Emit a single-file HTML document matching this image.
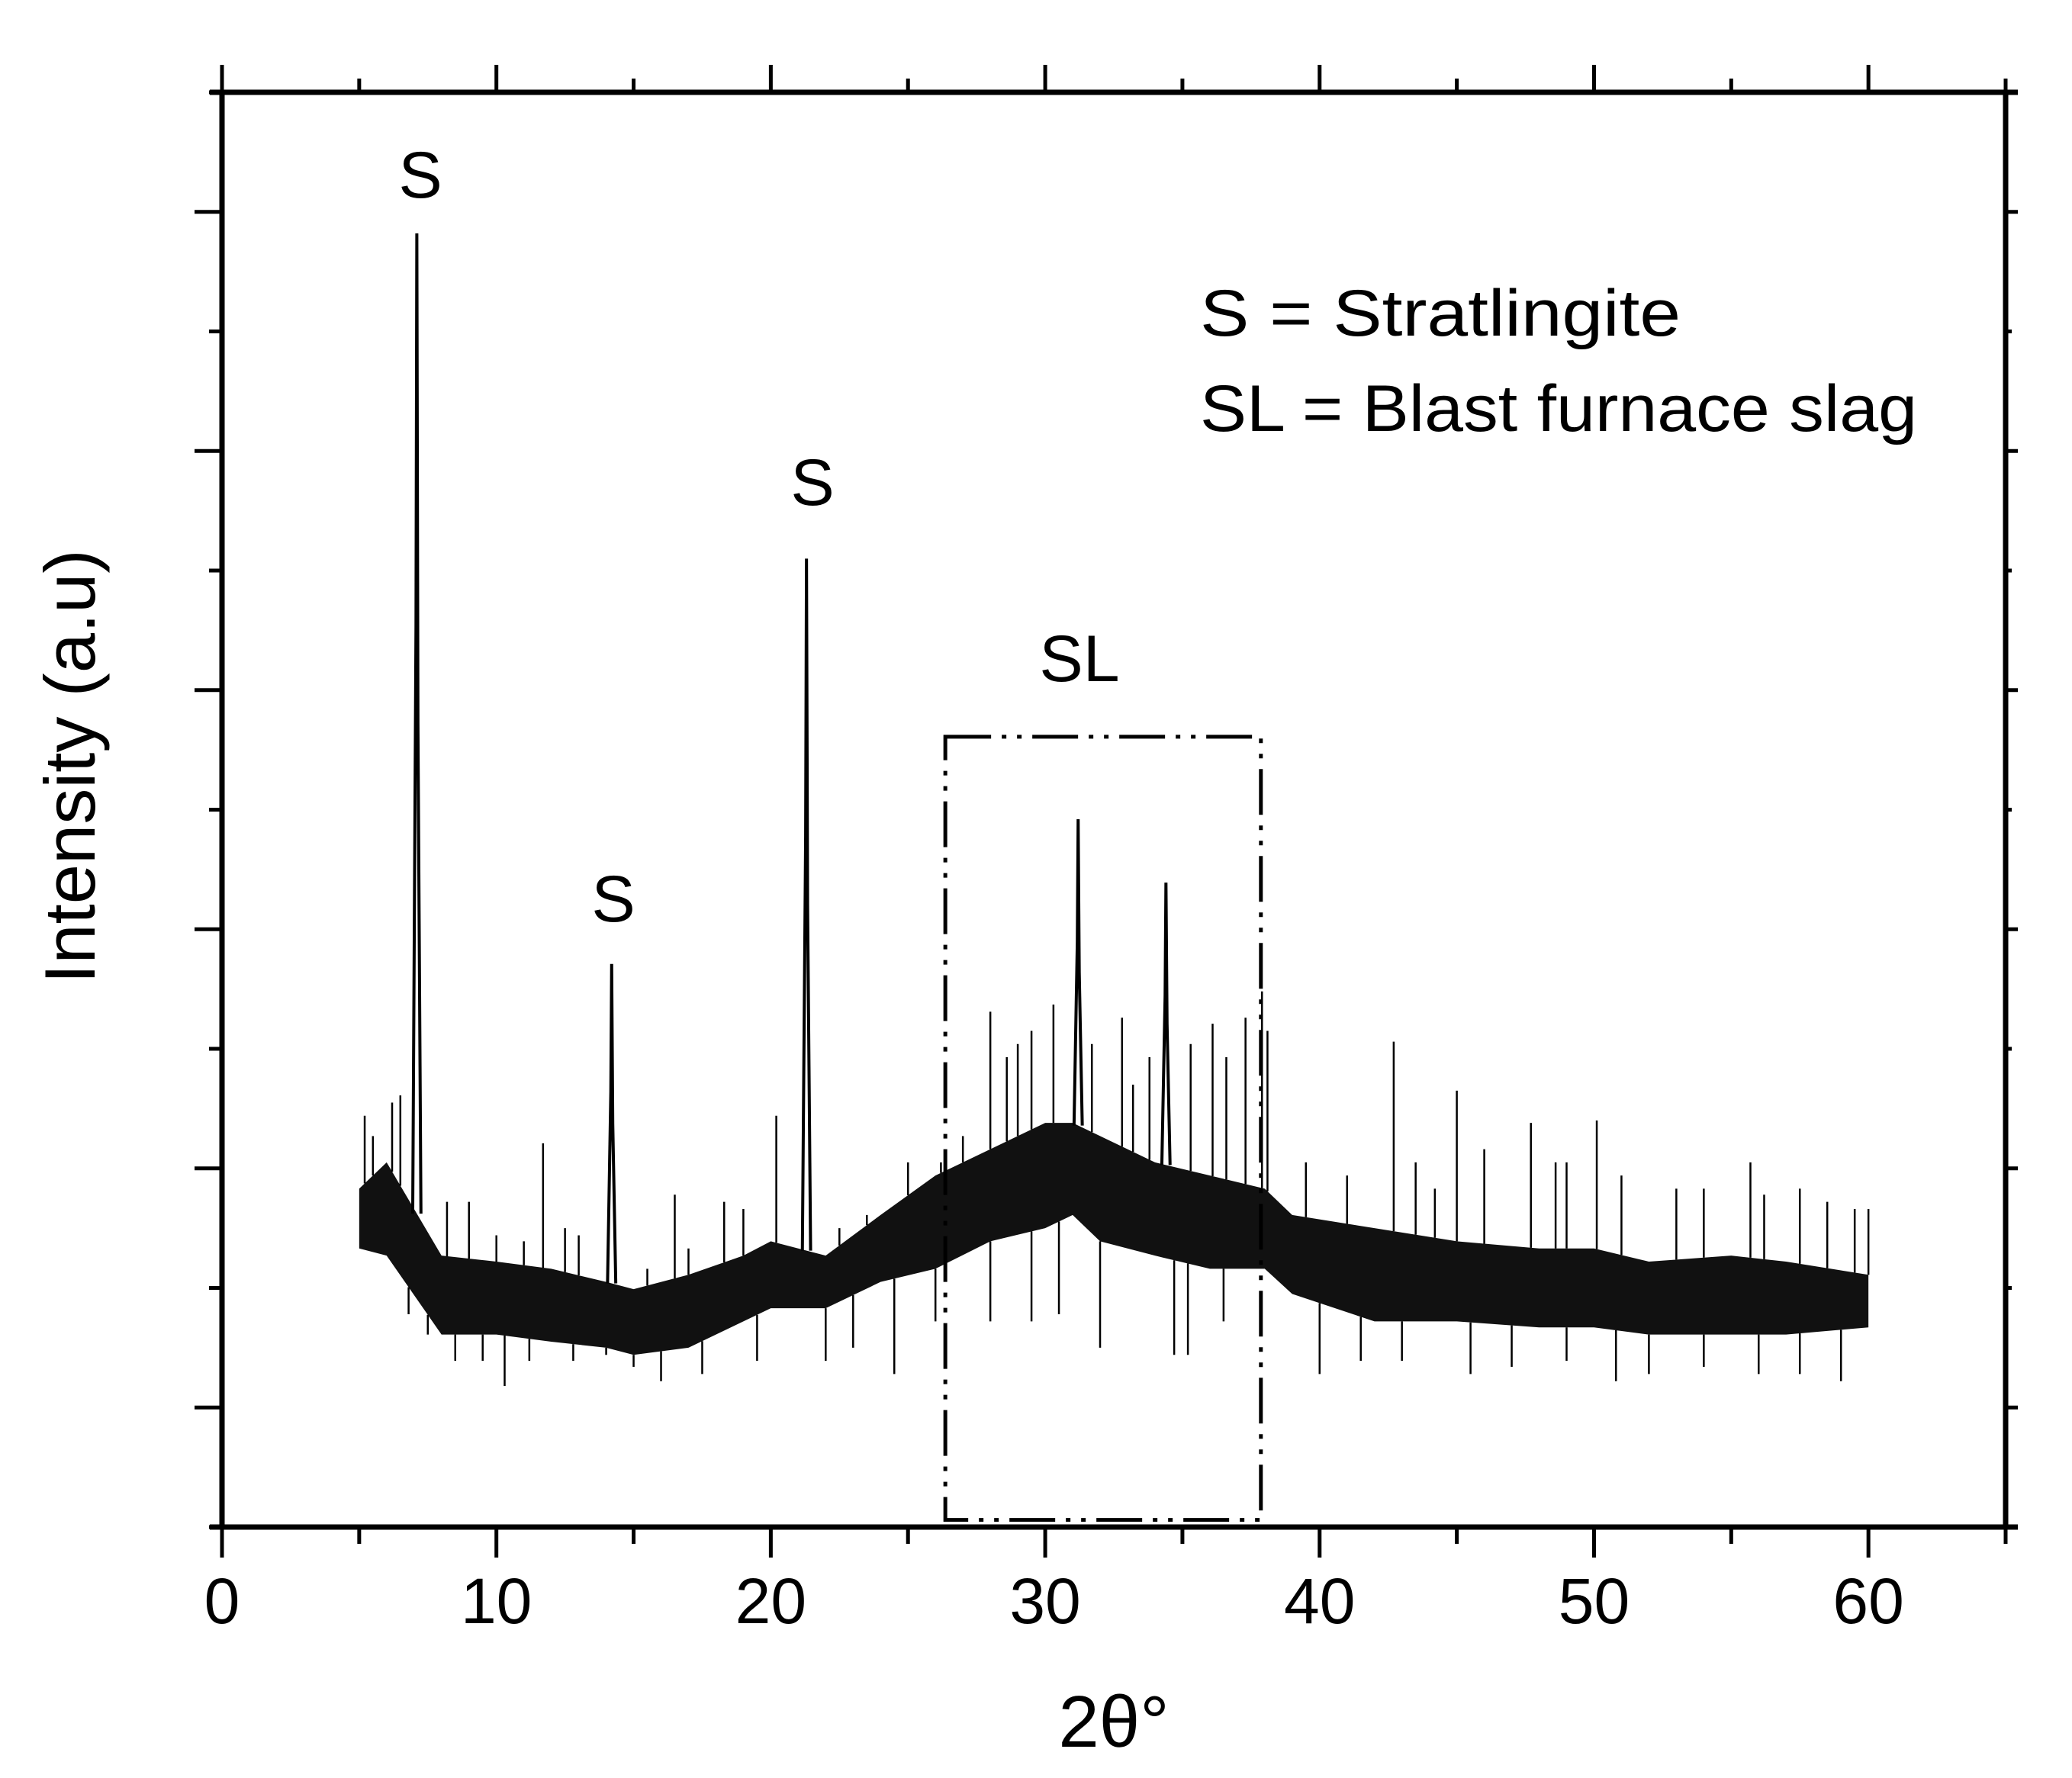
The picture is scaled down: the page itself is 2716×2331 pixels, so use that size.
<!DOCTYPE html>
<html><head><meta charset="utf-8"><style>
html,body{margin:0;padding:0;background:#fff}
svg{display:block}
text{font-family:"Liberation Sans",Arial,sans-serif;fill:#000}
</style></head><body>
<svg id="chart" width="2716" height="2331" viewBox="0 0 2716 2331" xmlns="http://www.w3.org/2000/svg">
<g id="band"></g>
<g id="spikes"></g>
<g id="peaks"></g>
<rect id="slbox" fill="none" stroke="#000" stroke-width="5" stroke-dasharray="60,14,6,14,6,14"></rect>
<g id="axes"></g>
<text x="551" y="259" font-size="86" text-anchor="middle">S</text>
<text x="804" y="1208" font-size="86" text-anchor="middle">S</text>
<text x="1065" y="662" font-size="86" text-anchor="middle">S</text>
<text x="1415" y="893" font-size="86" text-anchor="middle">SL</text>
<text x="1573" y="440" font-size="86" textLength="630" lengthAdjust="spacingAndGlyphs">S = Stratlingite</text>
<text x="1573" y="565" font-size="86" textLength="940" lengthAdjust="spacingAndGlyphs">SL = Blast furnace slag</text>
<text x="1460" y="2290" font-size="96" text-anchor="middle">2θ°</text>
<text x="0" y="0" font-size="94" text-anchor="middle" transform="translate(124,1005) rotate(-90)">Intensity (a.u)</text>
</svg>
<script>
// ---- data ----
const bandX     = [5,6,8,10,12,14,15,17,19,20,22,24,26,28,30,31,32,34,36,38,39,42,45,48,50,52,55,57,60];
const bandLow   = [2.33,2.27,1.61,1.61,1.55,1.50,1.44,1.50,1.72,1.83,1.83,2.05,2.16,2.39,2.50,2.61,2.39,2.27,2.16,2.16,1.95,1.72,1.72,1.67,1.67,1.61,1.61,1.61,1.67];
const bandHigh  = [2.83,3.05,2.27,2.22,2.16,2.05,1.99,2.11,2.27,2.39,2.27,2.61,2.94,3.16,3.38,3.38,3.27,3.05,2.94,2.83,2.61,2.50,2.39,2.33,2.33,2.22,2.27,2.22,2.11];
const spikeX    = [5.2,6.5,11.7,16.5,18.3,20.2,26.2,28,28.6,29.5,30.3,32.8,33.2,35.3,36.1,36.6,37.3,37.9,38.1,42.7,45,47.7,48.6,50.1,55.7,56.2,60,
                   5.5,6.2,8.2,9,10,11,12.5,13,15.5,17,19,22.5,23.5,25,27,29,31.7,33.8,39.5,41,43.5,44.2,46,49,51,53,54,57.5,58.5,59.5];
const spikeTop  = [3.44,3.61,3.21,2.78,2.72,3.44,3.05,4.31,3.93,4.15,4.37,4.26,3.70,4.04,4.21,3.93,4.26,4.48,4.15,4.06,3.65,3.38,3.05,3.40,3.05,2.78,2.66,
                   3.27,3.55,2.72,2.72,2.44,2.39,2.50,2.44,2.16,2.33,2.66,2.50,2.61,3.05,3.27,4.04,4.04,3.93,3.05,2.94,3.05,2.83,3.16,3.05,2.94,2.83,2.83,2.83,2.72,2.66];
const dipX      = [10.3,16,24.5,32,34.7,45.5,50.8,59,
                   6.8,7.5,8.5,9.5,11.2,12.8,14,15,17.5,19.5,22,23,26,28,29.5,30.5,35.2,36.5,40,41.5,43,47,49,52,54,56,57.5];
const dipBottom = [1.18,1.22,1.28,1.50,1.44,1.28,1.22,1.22,
                   1.78,1.61,1.39,1.39,1.39,1.39,1.44,1.34,1.28,1.39,1.39,1.50,1.72,1.72,1.72,1.78,1.44,1.72,1.28,1.39,1.39,1.34,1.39,1.28,1.34,1.28,1.28];
const peakX     = [7.1,14.2,21.3,31.2,34.4];
const peakTop   = [10.82,4.71,8.10,5.92,5.39];
const boxX      = [26.36,37.86];
const boxTop    = 6.61;
const xTickLabels = ["0","10","20","30","40","50","60"];
const xTickValues = [0,10,20,30,40,50,60];

// ---- axes functions ----
const X0=291,X1=2629,Y0=2002,Y1=121;
const xMax=65,yMax=12;
const sx=v=>X0+(v/xMax)*(X1-X0);
const sy=v=>Y0-(v/yMax)*(Y0-Y1);
const NS="http://www.w3.org/2000/svg";
function mk(tag,parent){const e=document.createElementNS(NS,tag);parent.appendChild(e);return e;}
function interp(xs,ys,x){for(let i=0;i<xs.length-1;i++){if(x<=xs[i+1]){const t=(x-xs[i])/(xs[i+1]-xs[i]);return ys[i]+t*(ys[i+1]-ys[i]);}}return ys[ys.length-1];}

// band
const band=document.getElementById('band');
const poly=mk('polygon',band);


let pts=[];
for(let i=0;i<bandX.length;i++)pts.push(sx(bandX[i])+','+sy(bandHigh[i]));
for(let i=bandX.length-1;i>=0;i--)pts.push(sx(bandX[i])+','+sy(bandLow[i]));
poly.setAttribute('points',pts.join(' '));
poly.setAttribute('fill','#111');

// spikes
const sp=document.getElementById('spikes');
spikeX.forEach((x,i)=>{
  const l=mk('line',sp);
  
  
  l.setAttribute('x1',sx(x));l.setAttribute('x2',sx(x));
  l.setAttribute('y1',sy(interp(bandX,bandHigh,x)));l.setAttribute('y2',sy(spikeTop[i]));
  l.setAttribute('stroke','#000');l.setAttribute('stroke-width','2.5');
});
dipX.forEach((x,i)=>{
  const l=mk('line',sp);
  
  
  l.setAttribute('x1',sx(x));l.setAttribute('x2',sx(x));
  l.setAttribute('y1',sy(interp(bandX,bandLow,x)));l.setAttribute('y2',sy(dipBottom[i]));
  l.setAttribute('stroke','#000');l.setAttribute('stroke-width','2.5');
});

// peaks
const pk=document.getElementById('peaks');
peakX.forEach((x,i)=>{
  const b=interp(bandX,bandHigh,x);
  const p=mk('polyline',pk);
  
  
  p.setAttribute('points',[sx(x-0.15)+','+sy(b),sx(x-0.03)+','+sy(b+(peakTop[i]-b)*0.6),sx(x)+','+sy(peakTop[i]),sx(x+0.04)+','+sy(b+(peakTop[i]-b)*0.5),sx(x+0.15)+','+sy(b)].join(' '));
  p.setAttribute('fill','none');p.setAttribute('stroke','#000');p.setAttribute('stroke-width','4');
});

// box
const bx=document.getElementById('slbox');
bx.setAttribute('x',sx(boxX[0]));bx.setAttribute('width',sx(boxX[1])-sx(boxX[0]));
bx.setAttribute('y',sy(boxTop));bx.setAttribute('height',sy(0.06)-sy(boxTop));

// axes
const ax=document.getElementById('axes');
function line(x1,y1,x2,y2,w,name){const l=mk('line',ax);
  
  
  l.setAttribute('x1',x1);l.setAttribute('y1',y1);l.setAttribute('x2',x2);l.setAttribute('y2',y2);l.setAttribute('stroke','#000');l.setAttribute('stroke-width',w);}
line(X0-16,Y0,X1+16,Y0,7,'x-axis-bottom');
line(X0-16,Y1,X1+16,Y1,7,'x-axis-top');
line(X0,Y1-2,X0,Y0+2,7,'y-axis-left');
line(X1,Y1-2,X1,Y0+2,7,'y-axis-right');
for(let v=0;v<=65;v+=5){
  const major=v%10===0;
  line(sx(v),Y0,sx(v),Y0+(major?40:22),5,'x-tick');
  line(sx(v),Y1,sx(v),Y1-(major?36:18),5,'x-tick-top');
}
for(let v=0;v<=12;v++){
  const major=v%2===1;
  line(X0,sy(v),X0-(major?36:17),sy(v),5,'y-tick');
  line(X1,sy(v),X1+(major?16:8),sy(v),5,'y-tick-right');
}
xTickValues.forEach((v,i)=>{
  const t=mk('text',ax);
  
  
  t.setAttribute('x',sx(v));t.setAttribute('y',2128);
  t.setAttribute('font-size','84');t.setAttribute('text-anchor','middle');
  t.textContent=xTickLabels[i];
});
</script>
</body></html>
